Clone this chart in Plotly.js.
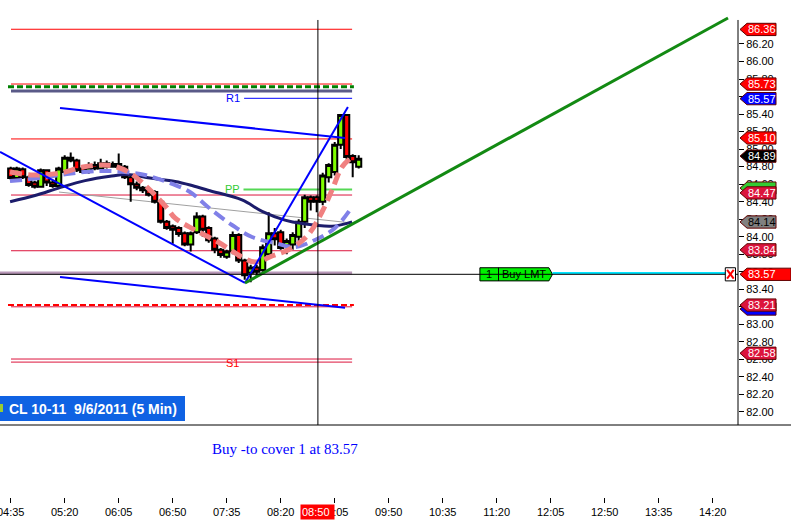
<!DOCTYPE html>
<html><head><meta charset="utf-8">
<script src="https://cdn.plot.ly/plotly-3.0.1.min.js"></script>
<style>html,body{margin:0;padding:0;background:#fff}#chart{width:791px;height:523px}</style>
</head><body><div id="chart"></div>
<script>
// ---- data ----
const barIndex = [0,1,2,3,4,5,6,7,8,9,10,11,12,13,14,15,16,17,18,19,20,21,22,23,24,25,26,27,28,29,30,31,32,33,34,35,36,37,38,39,40,41,42,43,44,45,46,47,48,49,50,51,52,53,54,55,56,57,58];
const openP  = [84.78,84.67,84.77,84.68,84.62,84.57,84.76,84.62,84.58,84.74,84.90,84.87,84.78,84.74,84.82,84.78,84.84,84.80,84.83,84.80,84.68,84.60,84.56,84.53,84.51,84.40,84.17,84.12,84.10,84.04,83.91,84.05,84.23,84.10,83.98,83.85,83.77,83.83,84.02,83.73,83.59,83.65,83.62,83.80,84.04,84.05,83.90,83.91,84.00,84.17,84.45,84.45,84.40,84.68,84.74,85.05,85.39,84.92,84.80];
const highP  = [84.80,84.80,84.79,84.70,84.64,84.78,84.77,84.65,84.80,84.93,84.96,84.89,84.80,84.85,84.86,84.89,84.87,84.86,84.95,84.82,84.70,84.63,84.58,84.55,84.53,84.42,84.19,84.14,84.12,84.06,84.06,84.28,84.25,84.12,84.00,83.87,83.85,84.06,84.04,83.75,83.68,83.68,83.91,84.28,84.10,84.08,83.98,84.05,84.20,84.48,84.47,84.47,84.73,84.84,85.08,85.40,85.40,84.94,84.93];
const lowP   = [84.65,84.66,84.66,84.57,84.55,84.56,84.58,84.56,84.57,84.73,84.85,84.74,84.72,84.72,84.76,84.77,84.78,84.79,84.78,84.66,84.40,84.53,84.50,84.46,84.38,84.15,84.08,83.92,84.00,83.89,83.83,84.03,84.00,83.93,83.81,83.76,83.75,83.80,83.70,83.51,83.48,83.55,83.60,83.78,83.90,83.85,83.80,83.85,83.95,84.10,84.30,84.28,84.36,84.62,84.70,85.00,84.88,84.68,84.78];
const closeP = [84.67,84.78,84.68,84.59,84.57,84.76,84.62,84.58,84.78,84.90,84.87,84.76,84.74,84.79,84.78,84.84,84.80,84.83,84.80,84.68,84.60,84.56,84.53,84.48,84.40,84.17,84.10,84.08,84.03,83.91,84.04,84.23,84.08,83.96,83.85,83.79,83.83,84.02,83.73,83.56,83.65,83.60,83.88,84.04,83.97,83.87,83.95,84.02,84.17,84.45,84.40,84.40,84.70,84.82,85.05,85.39,84.91,84.85,84.89];

// moving averages (bar index, price)
const navyX = [-0.1,4.05,8.2,12.4,16.55,19.4,23.2,27.4,29.9,32.9,38.55,41.9,45.7,48.55,53.55,56.9];
const navyY = [84.40,84.47,84.56,84.64,84.69,84.71,84.67,84.63,84.59,84.53,84.42,84.29,84.19,84.15,84.12,84.17];
const lavX = [-0.12,4.88,9.38,14.88,19.05,22.38,26.05,29.88,32.88,36.88,40.22,44.05,47.38,50.72,54.05,56.88];
const lavY = [84.636,84.670,84.716,84.750,84.739,84.705,84.625,84.511,84.339,84.134,83.997,83.928,83.883,83.963,84.100,84.339];
const salX = [-0.12,3.72,8.22,12.05,15.38,17.72,20.38,23.22,26.05,27.38,30.72,34.55,38.55,40.72,43.55,46.55,49.55,51.88,53.55,55.22,56.88];
const salY = [84.739,84.705,84.727,84.796,84.819,84.796,84.705,84.533,84.328,84.214,84.077,83.940,83.768,83.711,83.780,83.860,84.020,84.282,84.533,84.796,84.910];

// trend lines
const downLineX = [-1.78,39.05], downLineY = [84.967,83.472];
const upLineX = [39.05,56.2], upLineY = [83.472,85.481];
const topChanX = [8.22,55.72], topChanY = [85.469,85.127];
const botChanX = [8.22,55.72], botChanY = [83.54,83.19];
const greenTrendX = [39.05,119.55], greenTrendY = [83.472,86.497];
const grayLineX = [8.05,56.88], grayLineY = [84.51,84.157];

// price levels
const levelRed = [86.368, 85.743, 85.116];
const levelCrimson = [84.476, 83.84, 82.604, 82.569, 83.20];
const levelGreenDash = 85.713, levelSlate = 85.663, levelR1 = 85.58, levelPP = 84.54, levelS1 = 82.58;
const levelOrder = 83.571, levelMauve = 83.585, levelRedDash = 83.222;
const cursorBar = 51.2;

// axis ticks
const tickIdx = [0,9,18,27,36,45,54,63,72,81,90,99,108,117];
const tickLabels = ['04:35','05:20','06:05','06:50','07:35','08:20','09:05','09:50','10:35','11:20','12:05','12:50','13:35','14:20'];
const priceTicks = [82.0,82.2,82.4,82.6,82.8,83.0,83.2,83.4,83.6,83.8,84.0,84.2,84.4,84.6,84.8,85.0,85.2,85.4,85.6,85.8,86.0,86.2];

// right-side price tags
const tagLabels = ['86.36','85.73','85.57','85.10','84.89','84.47','84.14','83.84','83.57','83.21','82.58'];
const tagPos    = [86.366,85.743,85.576,85.127,84.92,84.50,84.168,83.85,83.571,83.22,82.67];
const tagFill   = ['#ff0000','#ff0000','#0000ff','#ff0000','#000000','#dc143c','#808080','#dc143c','#ff0000','#dc143c','#dc143c'];
const tagText   = ['#fff','#fff','#fff','#fff','#fff','#fff','#000','#fff','#fff','#fff','#fff'];
const backTagPos = [84.555, 83.175];
const backTagFill = ['#33cc33','#0000ff'];

// ---- build ----
const FONT = 'Liberation Sans, Arial, sans-serif';
const XR = [-1.783, 121.217];
const xe = 56.9;
const PH = 497;
const py = yPix => (PH - yPix) / PH;

function line(x0,x1,y0,y1,color,width,dash,layer){
  return {type:'line',xref:'x',yref:'y',x0:x0,x1:x1,y0:y0,y1:y1,layer:layer||'below',
          line:{color:color,width:width,dash:dash||'solid'}};
}
const shapes = [];
levelRed.forEach(v=>shapes.push(line(0.05,xe,v,v,'#ff0000',1)));
levelCrimson.forEach(v=>shapes.push(line(0.05,xe,v,v,'#dc143c',1)));
shapes.push(line(-0.45,57.2,levelGreenDash,levelGreenDash,'#008000',3,'6px,3px'));
shapes.push(line(0.05,xe,levelSlate,levelSlate,'#5a5a88',3));
shapes.push(line(38.9,xe,levelR1,levelR1,'#0000ff',1));
shapes.push(line(38.8,xe,levelPP,levelPP,'#55d855',2));
shapes.push(line(-0.45,57.2,levelRedDash,levelRedDash,'#ff0000',2,'6px,3px'));
shapes.push(line(XR[0],xe,levelMauve,levelMauve,'#b898b8',3));
shapes.push(line(grayLineX[0],grayLineX[1],grayLineY[0],grayLineY[1],'#a0a0a0',1));
shapes.push(line(cursorBar,cursorBar,86.474,81.851,'#000',1,'solid','above'));
shapes.push({type:'line',xref:'paper',yref:'y',x0:1,x1:1,y0:86.474,y1:81.851,layer:'above',line:{color:'#000',width:1}});
shapes.push({type:'line',xref:'paper',yref:'paper',x0:0,x1:1.072,y0:py(425),y1:py(425),layer:'above',line:{color:'#000',width:1}});
const oy = levelOrder, oh = 0.075;
shapes.push({type:'path',xref:'x',yref:'y',layer:'above',fillcolor:'#00f000',line:{color:'#000',width:1},
  path:`M78.2,${oy-oh} L78.2,${oy+oh} L89.7,${oy+oh} L90.3,${oy} L89.7,${oy-oh} Z`});
shapes.push(line(81.3,81.3,oy-oh,oy+oh,'#000',1,'solid','above'));
shapes.push(line(90.3,119.3,oy+0.015,oy+0.015,'#00e5ff',2,'solid','above'));
shapes.push(line(XR[0],XR[1],levelOrder,levelOrder,'#000',1,'solid','above'));
shapes.push({type:'rect',xref:'x',yref:'y',x0:119.1,x1:120.8,y0:oy-0.075,y1:oy+0.075,layer:'above',fillcolor:'#fff',line:{color:'#000',width:1}});
shapes.push(line(119.4,120.5,oy-0.05,oy+0.05,'#ff0000',2,'solid','above'));
shapes.push(line(119.4,120.5,oy+0.05,oy-0.05,'#ff0000',2,'solid','above'));
shapes.push({type:'rect',xref:'paper',yref:'paper',x0:0,x1:185/738,y0:py(421),y1:py(396),layer:'above',fillcolor:'#0f62e3',line:{width:0}});
shapes.push({type:'rect',xref:'paper',yref:'paper',x0:0,x1:3/738,y0:py(412),y1:py(404),layer:'above',fillcolor:'#9acd32',line:{width:0}});

const h = 0.07, px = v=>v/738;
function tag(p, fill, long){
  const xr = long ? px(791) : px(776);
  return {type:'path',xref:'paper',yref:'y',layer:'above',fillcolor:fill,line:{color:'#600000',width:1},
    path:`M${px(740)},${p} L${px(747)},${p+h} L${xr},${p+h} L${xr},${p-h} L${px(747)},${p-h} Z`};
}
backTagPos.forEach((p,i)=>shapes.push(tag(p, backTagFill[i], false)));
const annotations = [];
tagPos.forEach((p,i)=>{
  shapes.push(tag(p, tagFill[i], tagLabels[i]==='83.57'));
  annotations.push({xref:'paper',yref:'y',x:px(761.5),y:p,text:tagLabels[i],showarrow:false,
    xanchor:'center',yanchor:'middle',font:{family:FONT,size:11,color:tagText[i]}});
});
annotations.push({xref:'x',yref:'y',x:37.05,y:levelR1,text:'R1',showarrow:false,font:{family:FONT,size:11,color:'#0000ff'}});
annotations.push({xref:'x',yref:'y',x:36.9,y:levelPP,text:'PP',showarrow:false,font:{family:FONT,size:11,color:'#33cc33'}});
annotations.push({xref:'x',yref:'y',x:36.9,y:levelS1-0.02,text:'S1',showarrow:false,font:{family:FONT,size:11,color:'#ff0000'}});
annotations.push({xref:'x',yref:'y',x:79.75,y:levelOrder,text:'1',showarrow:false,font:{family:FONT,size:11,color:'#000'}});
annotations.push({xref:'x',yref:'y',x:85.5,y:levelOrder,text:'Buy LMT',showarrow:false,font:{family:FONT,size:11,color:'#000'}});
annotations.push({xref:'paper',yref:'paper',x:px(7),y:py(408.5),xanchor:'left',yanchor:'middle',showarrow:false,
  text:'<b>CL 10-11\u00a0\u00a09/6/2011 (5 Min)</b>',font:{family:FONT,size:14,color:'#fff'}});
annotations.push({xref:'paper',yref:'paper',x:px(284.5),y:py(449),xanchor:'center',yanchor:'middle',showarrow:false,
  text:'Buy -to cover 1 at 83.57',font:{family:'Liberation Serif, Times New Roman, serif',size:15,color:'#0000ff'}});
annotations.push({xref:'x',yref:'paper',x:cursorBar,y:py(512),xanchor:'center',yanchor:'middle',showarrow:false,
  text:'08:50\u00a0',bgcolor:'#ff0000',borderpad:1,font:{family:FONT,size:11,color:'#fff'}});

const traces = [
  {type:'candlestick',x:barIndex,open:openP,high:highP,low:lowP,close:closeP,hoverinfo:'skip',
   increasing:{fillcolor:'#80ff00',line:{color:'#000',width:2}},
   decreasing:{fillcolor:'#ff0000',line:{color:'#000',width:2}},whiskerwidth:0},
  {type:'scatter',mode:'lines',x:navyX,y:navyY,line:{color:'#1c1c6b',width:3,shape:'spline'},hoverinfo:'skip'},
  {type:'scatter',mode:'lines',x:lavX,y:lavY,line:{color:'#8080e8',width:4,dash:'12px,6px',shape:'spline'},hoverinfo:'skip'},
  {type:'scatter',mode:'lines',x:salX,y:salY,line:{color:'#f08080',width:5,dash:'12px,6px',shape:'spline'},hoverinfo:'skip'},
  {type:'scatter',mode:'lines',x:downLineX,y:downLineY,line:{color:'#0000ff',width:2},hoverinfo:'skip'},
  {type:'scatter',mode:'lines',x:upLineX,y:upLineY,line:{color:'#0000ff',width:2},hoverinfo:'skip'},
  {type:'scatter',mode:'lines',x:topChanX,y:topChanY,line:{color:'#0000ff',width:2},hoverinfo:'skip'},
  {type:'scatter',mode:'lines',x:botChanX,y:botChanY,line:{color:'#0000ff',width:2},hoverinfo:'skip'},
  {type:'scatter',mode:'lines',x:greenTrendX,y:greenTrendY,line:{color:'#138a13',width:3},hoverinfo:'skip'}
];

const layout = {
  width:791,height:523,margin:{l:0,r:53,t:0,b:523-PH},
  paper_bgcolor:'#fff',plot_bgcolor:'#fff',showlegend:false,boxgap:0.05,boxgroupgap:0.1,
  font:{family:FONT,size:11,color:'#000'},
  xaxis:{range:XR,anchor:'free',position:0,tickmode:'array',tickvals:tickIdx,ticktext:tickLabels,
    ticks:'outside',ticklen:5,tickcolor:'#000',showgrid:false,zeroline:false,showline:false,
    ticklabeloverflow:'allow',rangeslider:{visible:false},tickfont:{family:FONT,size:11,color:'#000'},fixedrange:true},
  yaxis:{domain:[py(425),1],range:[81.851,86.702],side:'right',tickmode:'array',tickvals:priceTicks,
    ticktext:priceTicks.map(v=>v.toFixed(2)),ticks:'outside',ticklen:5,tickcolor:'#000',
    showgrid:false,zeroline:false,showline:false,tickfont:{family:FONT,size:11,color:'#000'},fixedrange:true},
  shapes:shapes,annotations:annotations
};
Plotly.newPlot('chart',traces,layout,{staticPlot:true,displayModeBar:false});
</script></body></html>
